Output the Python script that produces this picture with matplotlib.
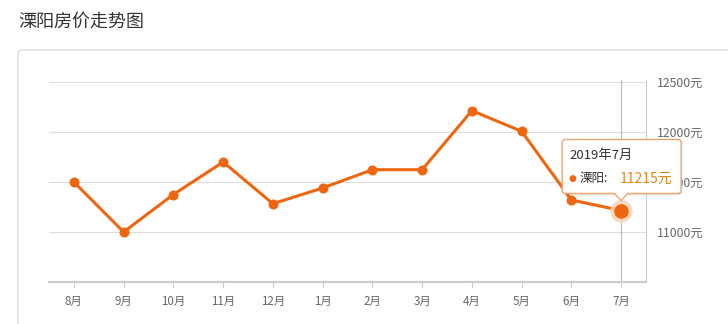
import matplotlib
matplotlib.use("Agg")
import matplotlib.pyplot as plt
from matplotlib.patches import FancyBboxPatch, Polygon
import numpy as np

plt.rcParams['font.family'] = ['Noto Sans CJK SC', 'DejaVu Sans']

title = "溧阳房价走势图"
months = ["8月", "9月", "10月", "11月", "12月", "1月", "2月", "3月", "4月", "5月", "6月", "7月"]
prices = [11500, 11000, 11375, 11700, 11283, 11440, 11623, 11623, 12213, 12007, 11320, 11215]
yticks = [11000, 11500, 12000, 12500]
ylim = (10500, 12520)
series_name = "溧阳"
tooltip_title = "2019年7月"

W, H = 728, 324
fig = plt.figure(figsize=(W / 100, H / 100), dpi=100)
fig.patch.set_facecolor("white")

# card border
card = FancyBboxPatch((18, -20), W + 20, (H - 50) + 20, boxstyle="round,pad=0,rounding_size=4",
                      transform=None, facecolor="white", edgecolor="#dcdcdc", linewidth=1.0, zorder=-5)
fig.patches.append(card)

fig.text(18 / W, 1 - 22 / H, title, fontsize=13, color="#333333", ha="left", va="center")

ax = fig.add_axes([49 / W, 1 - 282 / H, (646 - 49) / W, (282 - 80) / H])
ax.set_zorder(1)
ax.set_facecolor("white")
x = np.arange(len(months))
ax.set_xlim(-0.5, len(months) - 0.5)
ax.set_ylim(*ylim)

for s in ["left", "top"]:
    ax.spines[s].set_visible(False)
ax.spines["right"].set_color("#cccccc")
ax.spines["right"].set_linewidth(0.8)
ax.spines["bottom"].set_color("#cccccc")
ax.spines["bottom"].set_linewidth(1.6)

ax.set_yticks(yticks)
ax.set_yticklabels([f"{v}元" for v in yticks])
ax.yaxis.tick_right()
ax.tick_params(axis="y", length=0, pad=7.5, labelsize=8.8, labelcolor="#666666")
ax.set_xticks(x)
ax.set_xticklabels(months)
ax.tick_params(axis="x", length=4, width=0.8, color="#cccccc", pad=5, labelsize=8.3, labelcolor="#666666")
ax.grid(axis="y", color="#dddddd", linewidth=0.8)
ax.set_axisbelow(True)

line_color = "#EE6710"
ax.plot(x, prices, color=line_color, linewidth=2.2, marker="o", markersize=6.2, zorder=3)

# crosshair at last point
ax.axvline(x[-1], color="#bbbbbb", linewidth=0.8, zorder=2)
# highlighted last point
ax.plot([x[-1]], [prices[-1]], marker="o", markersize=15, color="#FBD2B4", alpha=0.8, zorder=4, linestyle="none")
ax.plot([x[-1]], [prices[-1]], marker="o", markersize=9.5, color=line_color, zorder=5, linestyle="none")

# tooltip anchored at last point (display coords)
px, py = ax.transData.transform((x[-1], prices[-1]))
bx0, bx1 = px - 59, px + 60
by_bottom, by_top = py + 17, py + 71
Z = 10
shadow = FancyBboxPatch((bx0 + 1.5, by_bottom - 2), bx1 - bx0, by_top - by_bottom,
                        boxstyle="round,pad=0,rounding_size=3", transform=None,
                        facecolor="#000000", alpha=0.08, edgecolor="none", zorder=Z)
box = FancyBboxPatch((bx0, by_bottom), bx1 - bx0, by_top - by_bottom,
                     boxstyle="round,pad=0,rounding_size=3", transform=None,
                     facecolor="white", edgecolor="#F2A36A", linewidth=1.0, zorder=Z + 1)
tri = Polygon([[px - 7, by_bottom + 0.6], [px, by_bottom - 7], [px + 7, by_bottom + 0.6]],
              closed=False, transform=None, facecolor="white", edgecolor="#F2A36A",
              linewidth=1.0, zorder=Z + 2)
tri_fill = Polygon([[px - 6, by_bottom + 1.2], [px, by_bottom - 6], [px + 6, by_bottom + 1.2]],
                   closed=True, transform=None, facecolor="white", edgecolor="none", zorder=Z + 3)
for p in (shadow, box, tri, tri_fill):
    fig.patches.append(p)

fig.text((bx0 + 7) / W, (by_top - 16) / H, tooltip_title, fontsize=9.5, color="#333333",
         ha="left", va="center", zorder=Z + 5)
fig.text((bx0 + 6) / W, (by_bottom + 15) / H, "●", fontsize=6.5, color=line_color,
         ha="left", va="center", zorder=Z + 5, family=["DejaVu Sans"])
fig.text((bx0 + 17) / W, (by_bottom + 15) / H, f"{series_name}:", fontsize=9, color="#333333",
         ha="left", va="center", zorder=Z + 5)
fig.text((bx0 + 58) / W, (by_bottom + 15) / H, f"{prices[-1]}元", fontsize=10, color="#E0861E",
         ha="left", va="center", zorder=Z + 5)

fig.savefig("out.png", dpi=100, facecolor="white")
